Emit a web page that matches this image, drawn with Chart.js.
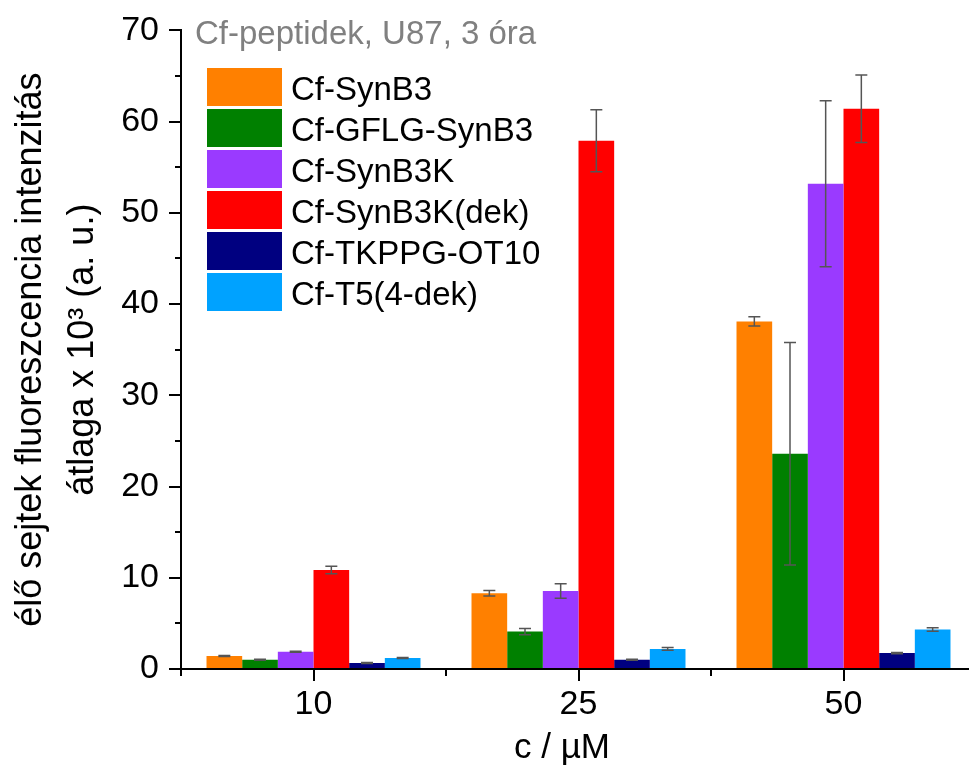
<!DOCTYPE html>
<html>
<head>
<meta charset="utf-8">
<script src="https://cdn.jsdelivr.net/npm/chart.js@4.4.1/dist/chart.umd.min.js"></script>
<style>
html, body { margin:0; padding:0; background:#fff; overflow:hidden; width:969px; height:767px; }
#wrap { position:absolute; left:0; top:0; width:976px; height:767px; }
</style>
</head>
<body>
<div id="wrap"><canvas id="c"></canvas></div>
<script>
const categories = ['10', '25', '50'];
const seriesNames = ['Cf-SynB3', 'Cf-GFLG-SynB3', 'Cf-SynB3K', 'Cf-SynB3K(dek)', 'Cf-TKPPG-OT10', 'Cf-T5(4-dek)'];
const seriesColors = ['#FF8000', '#008000', '#9A3AFF', '#FF0000', '#000080', '#00A2FF'];
const synB3 = [1.42, 8.3, 38.1];
const synB3Err = [0.05, 0.3, 0.5];
const gflgSynB3 = [1.02, 4.1, 23.6];
const gflgSynB3Err = [0.05, 0.35, 12.2];
const synB3K = [1.89, 8.55, 53.2];
const synB3KErr = [0.05, 0.8, 9.1];
const synB3Kdek = [10.85, 57.9, 61.4];
const synB3KdekErr = [0.4, 3.4, 3.7];
const tkppg = [0.66, 1.02, 1.75];
const tkppgErr = [0.05, 0.05, 0.07];
const t5 = [1.2, 2.2, 4.33];
const t5Err = [0.05, 0.15, 0.2];
const yTicks = [0, 10, 20, 30, 40, 50, 60, 70];
const yMinorTicks = [5, 15, 25, 35, 45, 55, 65];
const chartTitle = 'Cf-peptidek, U87, 3 óra';
const yTitle = ['élő sejtek fluoreszcencia intenzitás', 'átlaga x 10³ (a. u.)'];
const xTitle = 'c / µM';

const values = [synB3, gflgSynB3, synB3K, synB3Kdek, tkppg, t5];
const errors = [synB3Err, gflgSynB3Err, synB3KErr, synB3KdekErr, tkppgErr, t5Err];
const FONT = "'Liberation Sans', Arial, sans-serif";

const datasets = seriesNames.map((n, i) => ({
  label: n,
  data: values[i],
  errors: errors[i],
  backgroundColor: seriesColors[i],
  borderWidth: 0,
  categoryPercentage: 0.8075,
  barPercentage: 1.0
}));

const extras = {
  id: 'extras',
  afterDatasetsDraw(chart) {
    const ctx = chart.ctx;
    const y = chart.scales.y;
    ctx.save();
    ctx.strokeStyle = '#555555';
    ctx.lineWidth = 1.5;
    chart.data.datasets.forEach((ds, di) => {
      const meta = chart.getDatasetMeta(di);
      meta.data.forEach((bar, i) => {
        const v = ds.data[i], e = ds.errors[i];
        const yt = y.getPixelForValue(v + e), yb = y.getPixelForValue(v - e);
        const x = bar.x;
        ctx.beginPath();
        ctx.moveTo(x, yt); ctx.lineTo(x, yb);
        ctx.moveTo(x - 6, yt); ctx.lineTo(x + 6, yt);
        ctx.moveTo(x - 6, yb); ctx.lineTo(x + 6, yb);
        ctx.stroke();
      });
    });
    ctx.restore();
  },
  afterDraw(chart) {
    const ctx = chart.ctx;
    const xs = chart.scales.x, ys = chart.scales.y;
    const area = chart.chartArea;
    ctx.save();
    ctx.strokeStyle = '#000';
    ctx.lineWidth = 2;
    ctx.beginPath();
    yMinorTicks.forEach(t => {
      const py = Math.round(ys.getPixelForValue(t));
      ctx.moveTo(area.left - 6, py); ctx.lineTo(area.left, py);
    });
    const half = (xs.getPixelForValue(1) - xs.getPixelForValue(0)) / 2;
    for (let i = 0; i < categories.length; i++) {
      const px = xs.getPixelForValue(i) - half;
      ctx.moveTo(px, area.bottom); ctx.lineTo(px, area.bottom + 7);
    }
    ctx.stroke();
    ctx.fillStyle = '#808080';
    ctx.font = '33px ' + FONT;
    ctx.textBaseline = 'alphabetic';
    ctx.textAlign = 'left';
    ctx.fillText(chartTitle, 195, 44);
    ctx.font = '33px ' + FONT;
    chart.data.datasets.forEach((ds, i) => {
      const top = 68 + 41 * i;
      ctx.fillStyle = ds.backgroundColor;
      ctx.fillRect(207, top, 75, 38);
      ctx.fillStyle = '#000';
      ctx.fillText(ds.label, 291, top + 32);
    });
    ctx.font = '35px ' + FONT;
    ctx.textAlign = 'center';
    ctx.fillText(xTitle, 562, 758);
    ctx.restore();
  }
};

new Chart(document.getElementById('c'), {
  type: 'bar',
  data: { labels: categories, datasets },
  options: {
    responsive: true,
    maintainAspectRatio: false,
    animation: false,
    layout: { padding: { top: 28, left: 0, right: 0, bottom: 0 } },
    plugins: { legend: { display: false }, tooltip: { enabled: false } },
    scales: {
      x: {
        offset: true,
        afterFit: s => { s.height = 98; },
        grid: { display: true, offset: false, drawOnChartArea: false, drawTicks: true, tickLength: 12, color: '#000', lineWidth: 2 },
        border: { display: true, color: '#000', width: 2 },
        ticks: { color: '#000', font: { family: FONT, size: 34 }, padding: 3, maxRotation: 0 },
        title: { display: false }
      },
      y: {
        min: 0, max: 70,
        afterFit: s => { s.width = 181; },
        afterBuildTicks: s => { s.ticks = yTicks.map(v => ({ value: v })); },
        grid: { display: true, drawOnChartArea: false, drawTicks: true, tickLength: 12, color: '#000', lineWidth: 2 },
        border: { display: true, color: '#000', width: 2 },
        ticks: { color: '#000', font: { family: FONT, size: 34 }, padding: 10 },
        title: { display: true, text: yTitle, color: '#000', font: { family: FONT, size: 36, lineHeight: 1.44 }, padding: { top: 5, bottom: 0 } }
      }
    }
  },
  plugins: [extras]
});
</script>
</body>
</html>
